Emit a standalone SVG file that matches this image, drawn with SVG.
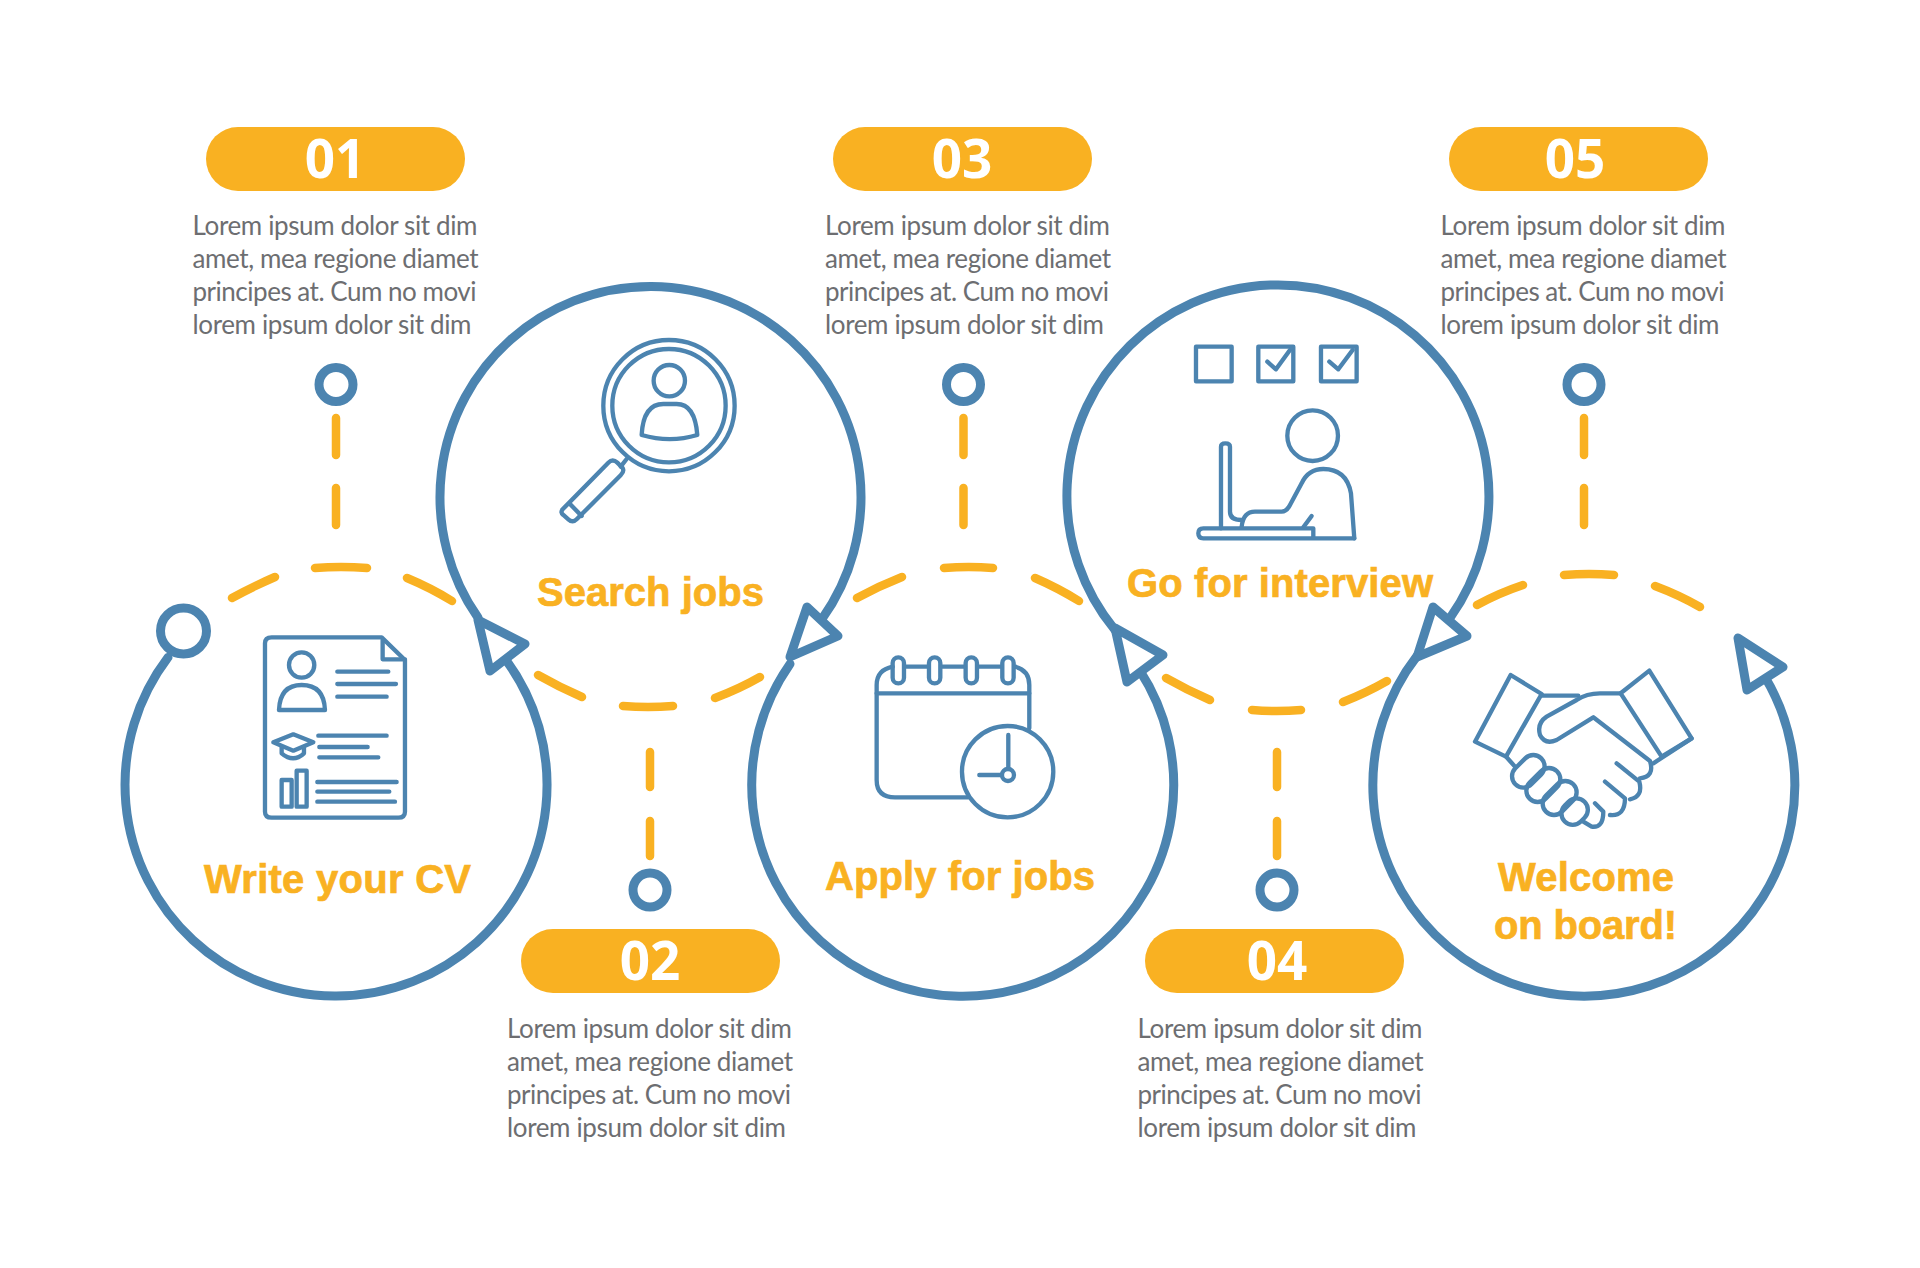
<svg xmlns="http://www.w3.org/2000/svg" width="1920" height="1268" viewBox="0 0 1920 1268">
<style>
.arc{fill:none;stroke:#4C84B0;stroke-width:9;stroke-linecap:round}
.head{fill:#fff;stroke:#4C84B0;stroke-width:9;stroke-linejoin:round}
.dot{fill:#fff;stroke:#4C84B0;stroke-width:9}
.dash{fill:none;stroke:#F9B122;stroke-width:8.500;stroke-linecap:round}
.pill{fill:#F9B122}
.num{font-family:"Noto Sans","Open Sans",sans-serif;font-weight:700;font-size:53px;fill:#fff;text-anchor:middle}
.body{font-family:"Lato","Noto Sans",sans-serif;font-size:26px;fill:#6D6E71}
.title{font-family:"Liberation Sans",Arial,sans-serif;font-weight:700;font-size:40px;fill:#F9B122;stroke:#F9B122;stroke-width:.7}
.ic{fill:none;stroke:#4C84B0;stroke-width:13;stroke-linecap:round;stroke-linejoin:round}
</style>
<rect width="1920" height="1268" fill="#fff"/>
<g id="connectors">
<g id="dashes">
<path class="dash" d="M232 598Q252 587 275 577M315 568Q341 566 367 568M407 578Q431 588 452 601"/>
<path class="dash" d="M538 675Q559 687 582 697M623 706Q648 708 673 706M715 698Q739 689 760 677"/>
<path class="dash" d="M857 598Q879 586 902 577M944 568Q969 566 993 568M1035 578Q1058 588 1079 601"/>
<path class="dash" d="M1166 678Q1187 690 1210 700M1252 710Q1277 712 1301 710M1343 702Q1366 693 1387 681"/>
<path class="dash" d="M1477 605Q1499 593 1523 585M1564 575Q1589 573 1614 575M1655 586Q1679 595 1700 607"/>
<path class="dash" d="M336 418V455M336 488V525"/>
<path class="dash" d="M650 752V787M650 821V856"/>
<path class="dash" d="M963.500 418V455M963.500 488V525"/>
<path class="dash" d="M1277 752V787M1277 821V856"/>
<path class="dash" d="M1584 418V455M1584 488V525"/>
</g>
<path class="arc" d="M168 657.400A211 211 0 1 0 506 660"/>
<path class="arc" d="M478 617.600A210.500 210.500 0 1 1 822 619"/>
<path class="arc" d="M790 664A211 211 0 1 0 1139.500 670"/>
<path class="arc" d="M1115 630A211 211 0 1 1 1450 618"/>
<path class="arc" d="M1417 656A211 211 0 1 0 1765 677"/>
<polygon class="head" points="478,620 525,644 490,671"/>
<polygon class="head" points="807,607 838,636 790,657"/>
<polygon class="head" points="1115,628 1163,655 1127,682"/>
<polygon class="head" points="1433,607 1467,636 1417,657"/>
<polygon class="head" points="1738,638 1783,667 1747,690"/>
<circle class="dot" cx="183.500" cy="631" r="23"/>
<circle class="dot" cx="336" cy="384.500" r="17"/>
<circle class="dot" cx="650" cy="890" r="17"/>
<circle class="dot" cx="963.500" cy="384.500" r="17"/>
<circle class="dot" cx="1277" cy="890" r="17"/>
<circle class="dot" cx="1584" cy="384.500" r="17"/>
</g>
<g id="step-1">
<rect class="pill" x="206" y="127" width="259" height="64" rx="32"/>
<text class="num" x="335" y="178">01</text>
<text class="body" x="192.500" y="235" textLength="285">Lorem ipsum dolor sit dim</text>
<text class="body" x="192.500" y="268" textLength="286">amet, mea regione diamet</text>
<text class="body" x="192.500" y="301" textLength="284">principes at. Cum no movi</text>
<text class="body" x="192.500" y="334" textLength="279">lorem ipsum dolor sit dim</text>
<text class="title" x="204" y="893" textLength="267">Write your CV</text>
<g transform="translate(100 540) scale(.3333)">
<path class="ic" d="M495 310Q495 292 515 292H845L915 360V815Q915 833 895 833H515Q495 833 495 815Z"/>
<path class="ic" d="M848 300V358H915"/>
<circle class="ic" cx="605" cy="375" r="38"/>
<path class="ic" d="M537 510Q540 435 605 435Q672 435 675 510Z"/>
<path class="ic" d="M712 395H865M712 432H888M712 470H860"/>
<path class="ic" d="M520 607L580 583L640 607L580 632Z"/>
<path class="ic" d="M545 622V640Q580 670 612 640V622"/>
<path class="ic" d="M655 587H860M658 621H803M658 652H835"/>
<rect class="ic" x="545" y="720" width="30" height="80"/>
<rect class="ic" x="590" y="692" width="30" height="108"/>
<path class="ic" d="M652 726H890M652 755H868M652 785H885"/>
</g>
</g>
<g id="step-2">
<rect class="pill" x="521" y="929" width="259" height="64" rx="32"/>
<text class="num" x="650" y="980">02</text>
<text class="body" x="507" y="1038" textLength="285">Lorem ipsum dolor sit dim</text>
<text class="body" x="507" y="1071" textLength="286">amet, mea regione diamet</text>
<text class="body" x="507" y="1104" textLength="284">principes at. Cum no movi</text>
<text class="body" x="507" y="1137" textLength="279">lorem ipsum dolor sit dim</text>
<text class="title" x="537" y="606" textLength="227">Search jobs</text>
<g transform="translate(430 270) scale(.3333)">
<circle class="ic" cx="717" cy="407" r="197"/>
<circle class="ic" cx="717" cy="407" r="170"/>
<circle class="ic" cx="718" cy="332" r="47"/>
<path class="ic" d="M635 495Q640 402 700 402H740Q795 402 802 495Q720 520 635 495Z"/>
<path class="ic" d="M590 567L572 590"/>
<path class="ic" d="M398 718L535 578Q548 565 562 578L572 588Q588 600 572 616L440 748Q428 760 415 748L400 735Q390 727 398 718Z"/>
<path class="ic" d="M420 702L455 738"/>
</g>
</g>
<g id="step-3">
<rect class="pill" x="833" y="127" width="259" height="64" rx="32"/>
<text class="num" x="962" y="178">03</text>
<text class="body" x="825" y="235" textLength="285">Lorem ipsum dolor sit dim</text>
<text class="body" x="825" y="268" textLength="286">amet, mea regione diamet</text>
<text class="body" x="825" y="301" textLength="284">principes at. Cum no movi</text>
<text class="body" x="825" y="334" textLength="279">lorem ipsum dolor sit dim</text>
<text class="title" x="825" y="890" textLength="270">Apply for jobs</text>
<g transform="translate(740 560) scale(.3333)">
<path class="ic" d="M868 505V375Q868 330 825 320M458 320Q410 330 410 375V660Q410 712 465 712H685"/>
<path class="ic" d="M410 400H868M495 320H565M605 320H675M715 320H785"/>
<rect class="ic" x="458" y="292" width="34" height="78" rx="17"/>
<rect class="ic" x="567" y="292" width="34" height="78" rx="17"/>
<rect class="ic" x="677" y="292" width="34" height="78" rx="17"/>
<rect class="ic" x="787" y="292" width="34" height="78" rx="17"/>
<circle class="ic" cx="803" cy="635" r="137"/>
<path class="ic" d="M805 525V625M718 645H785"/>
<circle class="ic" cx="804" cy="645" r="18"/>
</g>
</g>
<g id="step-4">
<rect class="pill" x="1145" y="929" width="259" height="64" rx="32"/>
<text class="num" x="1277" y="980">04</text>
<text class="body" x="1137.500" y="1038" textLength="285">Lorem ipsum dolor sit dim</text>
<text class="body" x="1137.500" y="1071" textLength="286">amet, mea regione diamet</text>
<text class="body" x="1137.500" y="1104" textLength="284">principes at. Cum no movi</text>
<text class="body" x="1137.500" y="1137" textLength="279">lorem ipsum dolor sit dim</text>
<text class="title" x="1127" y="597" textLength="306">Go for interview</text>
<g transform="translate(1060 270) scale(.3333)">
<rect class="ic" x="408" y="230" width="107" height="104"/>
<rect class="ic" x="595" y="230" width="105" height="104"/>
<rect class="ic" x="783" y="230" width="107" height="104"/>
<path class="ic" d="M622 275L648 298L690 240M808 275L835 298L878 240"/>
<circle class="ic" cx="758" cy="497" r="76"/>
<path class="ic" d="M883 805L873 670Q860 597 790 597Q745 597 725 640L690 705Q680 725 665 725H585Q550 725 545 770"/>
<path class="ic" d="M755 738L730 772"/>
<path class="ic" d="M483 775V530Q483 520 496 520Q510 520 510 530V725Q510 750 545 750"/>
<path class="ic" d="M430 775H760V805H430Q415 805 415 790Q415 775 430 775ZM760 805H883"/>
</g>
</g>
<g id="step-5">
<rect class="pill" x="1449" y="127" width="259" height="64" rx="32"/>
<text class="num" x="1575" y="178">05</text>
<text class="body" x="1440.500" y="235" textLength="285">Lorem ipsum dolor sit dim</text>
<text class="body" x="1440.500" y="268" textLength="286">amet, mea regione diamet</text>
<text class="body" x="1440.500" y="301" textLength="284">principes at. Cum no movi</text>
<text class="body" x="1440.500" y="334" textLength="279">lorem ipsum dolor sit dim</text>
<text class="title" x="1498" y="891" textLength="176">Welcome</text>
<text class="title" x="1494" y="939" textLength="183">on board!</text>
<g transform="translate(1370 560) scale(.3333)">
<path class="ic" d="M422 345L515 402L408 590L315 545Z"/>
<path class="ic" d="M838 332L965 535L875 590L752 400Z"/>
<path class="ic" d="M515 407H625M410 592L435 620M965 535L850 610"/>
<path class="ic" d="M752 400H690Q650 400 620 420L530 470Q500 490 510 525Q525 555 560 540L670 472L840 603Q855 650 810 655"/>
<path class="ic" d="M740 610L808 665Q820 710 780 718M705 665L765 715Q765 770 720 765M675 730L700 755Q700 805 665 800L640 785"/>
<rect class="ic" x="420" y="600" width="110" height="68" rx="34" transform="rotate(-45 475 634)"/>
<rect class="ic" x="462" y="641" width="116" height="68" rx="34" transform="rotate(-45 520 675)"/>
<rect class="ic" x="511" y="680" width="116" height="68" rx="34" transform="rotate(-45 569 714)"/>
<rect class="ic" x="572" y="721" width="84" height="68" rx="34" transform="rotate(-45 614 755)"/>
</g>
</g>
</svg>
